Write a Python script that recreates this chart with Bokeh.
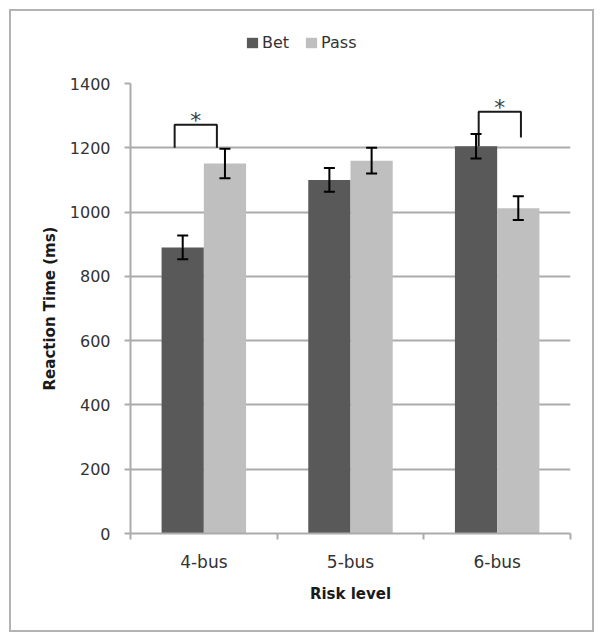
from bokeh.plotting import figure
from bokeh.layouts import column
from bokeh.models import (ColumnDataSource, Whisker, TeeHead, FixedTicker,
                          Legend, LegendItem, Range1d)
from bokeh.core.properties import value
from bokeh.embed import file_html
from bokeh.resources import INLINE

# ---- data ----
categories = ["4-bus", "5-bus", "6-bus"]
bet = [890, 1100, 1205]
bet_err = [37, 37, 38]
pass_ = [1151, 1160, 1012]
pass_err = [46, 40, 37]
y_ticks = [0, 200, 400, 600, 800, 1000, 1200, 1400]

# significance brackets: category, top, left-leg bottom, right-leg bottom, shift
sig_cats = ["4-bus", "6-bus"]
sig_top = [1272, 1312]
sig_left_bottom = [1200, 1205]
sig_right_bottom = [1200, 1232]
sig_shift = [-0.055, 0.018]

BET_COLOR = "#595959"
PASS_COLOR = "#bfbfbf"
GRID = "#ababab"
FONT = "DejaVu Sans"

bar_w = 0.288
idx = {c: i for i, c in enumerate(categories)}
centers = [i + 0.5 for i in range(len(categories))]
bet_x = [c - bar_w / 2 for c in centers]
pass_x = [c + bar_w / 2 for c in centers]

W = 581
LEG_H = 63

p = figure(width=W, height=619 - LEG_H, output_backend="svg",
           toolbar_location=None,
           x_range=Range1d(0, 3), y_range=Range1d(0, 1400),
           min_border_left=119, min_border_top=72 - LEG_H, min_border_right=22,
           min_border_bottom=97)
p.outline_line_color = None
p.background_fill_color = "white"
p.border_fill_color = "white"

src_bet = ColumnDataSource(dict(x=bet_x, top=bet,
                                up=[v + e for v, e in zip(bet, bet_err)],
                                lo=[v - e for v, e in zip(bet, bet_err)]))
src_pass = ColumnDataSource(dict(x=pass_x, top=pass_,
                                 up=[v + e for v, e in zip(pass_, pass_err)],
                                 lo=[v - e for v, e in zip(pass_, pass_err)]))

p.vbar(x="x", top="top", width=bar_w, bottom=0, source=src_bet,
       fill_color=BET_COLOR, line_color=None)
p.vbar(x="x", top="top", width=bar_w, bottom=0, source=src_pass,
       fill_color=PASS_COLOR, line_color=None)

for s in (src_bet, src_pass):
    w = Whisker(base="x", upper="up", lower="lo", source=s, level="annotation",
                line_color="black", line_width=2,
                upper_head=TeeHead(size=11, line_color="black", line_width=2),
                lower_head=TeeHead(size=11, line_color="black", line_width=2))
    p.add_layout(w)

# brackets
xs, ys, ax, ay = [], [], [], []
for c, top, lb, rb, sh in zip(sig_cats, sig_top, sig_left_bottom,
                              sig_right_bottom, sig_shift):
    i = idx[c]
    xl = bet_x[i] + sh
    xr = pass_x[i] + sh
    xs.append([xl, xl, xr, xr])
    ys.append([lb, top, top, rb])
    ax.append((xl + xr) / 2)
    ay.append(top)
p.multi_line(xs=xs, ys=ys, line_color="#1a1a1a", line_width=2)
p.text(x=ax, y=ay, text=["*"] * len(ax), text_font=value(FONT),
       text_font_size="22px", text_color="#404040", text_align="center",
       text_baseline="alphabetic", y_offset=-4)

# axes
p.ygrid.grid_line_color = GRID
p.ygrid.grid_line_width = 2
p.xgrid.grid_line_color = None

p.yaxis.ticker = FixedTicker(ticks=y_ticks)
p.yaxis.axis_line_color = GRID
p.yaxis.axis_line_width = 2
p.yaxis.major_tick_line_color = GRID
p.yaxis.major_tick_line_width = 2
p.yaxis.major_tick_out = 6
p.yaxis.major_tick_in = 0
p.yaxis.minor_tick_line_color = None
p.yaxis.major_label_text_font = FONT
p.yaxis.major_label_text_font_size = "16px"
p.yaxis.major_label_text_color = "#333333"
p.yaxis.major_label_standoff = 14
p.yaxis.axis_label = "Reaction Time (ms)"
p.yaxis.axis_label_text_font = FONT
p.yaxis.axis_label_text_font_size = "15px"
p.yaxis.axis_label_text_font_style = "bold"
p.yaxis.axis_label_text_color = "#1a1a1a"
p.yaxis.axis_label_standoff = 8

p.xaxis.ticker = FixedTicker(ticks=centers, minor_ticks=[0, 1, 2, 3])
p.xaxis.major_label_overrides = {c: lab for c, lab in zip(centers, categories)}
p.xaxis.axis_line_color = GRID
p.xaxis.axis_line_width = 2
p.xaxis.major_tick_line_color = None
p.xaxis.major_tick_out = 6
p.xaxis.major_tick_in = 0
p.xaxis.minor_tick_line_color = GRID
p.xaxis.minor_tick_line_width = 2
p.xaxis.minor_tick_out = 6
p.xaxis.minor_tick_in = 0
p.xaxis.major_label_text_font = FONT
p.xaxis.major_label_text_font_size = "17px"
p.xaxis.major_label_text_color = "#333333"
p.xaxis.major_label_standoff = 12
p.xaxis.axis_label = "Risk level"
p.xaxis.axis_label_text_font = FONT
p.xaxis.axis_label_text_font_size = "15px"
p.xaxis.axis_label_text_font_style = "bold"
p.xaxis.axis_label_text_color = "#1a1a1a"
p.xaxis.axis_label_standoff = 10

# legend strip above the chart (its own small figure, same series/colours)
pl = figure(width=W, height=LEG_H, output_backend="svg", toolbar_location=None,
            x_axis_type=None, y_axis_type=None,
            x_range=Range1d(0, 3), y_range=Range1d(0, 1400),
            min_border=0)
pl.outline_line_color = None
pl.grid.visible = False
lb = pl.vbar(x="x", top="top", width=bar_w, bottom=0, source=src_bet,
             fill_color=BET_COLOR, line_color=None, visible=False)
lp = pl.vbar(x="x", top="top", width=bar_w, bottom=0, source=src_pass,
             fill_color=PASS_COLOR, line_color=None, visible=False)
legend = Legend(items=[LegendItem(label="Bet", renderers=[lb]),
                       LegendItem(label="Pass", renderers=[lp])],
                orientation="horizontal", location=(115, 22),
                glyph_width=14, glyph_height=13, label_standoff=3, spacing=15,
                padding=0, margin=0, border_line_color=None,
                background_fill_alpha=0, label_text_font=FONT,
                label_text_font_size="16px", label_text_color="#333333")
pl.add_layout(legend)

layout = column(pl, p, spacing=0,
                styles={"border": "2px solid #b3b3b3", "margin": "9px 0 0 9px"})

open("out.html", "w").write(file_html(layout, INLINE))
